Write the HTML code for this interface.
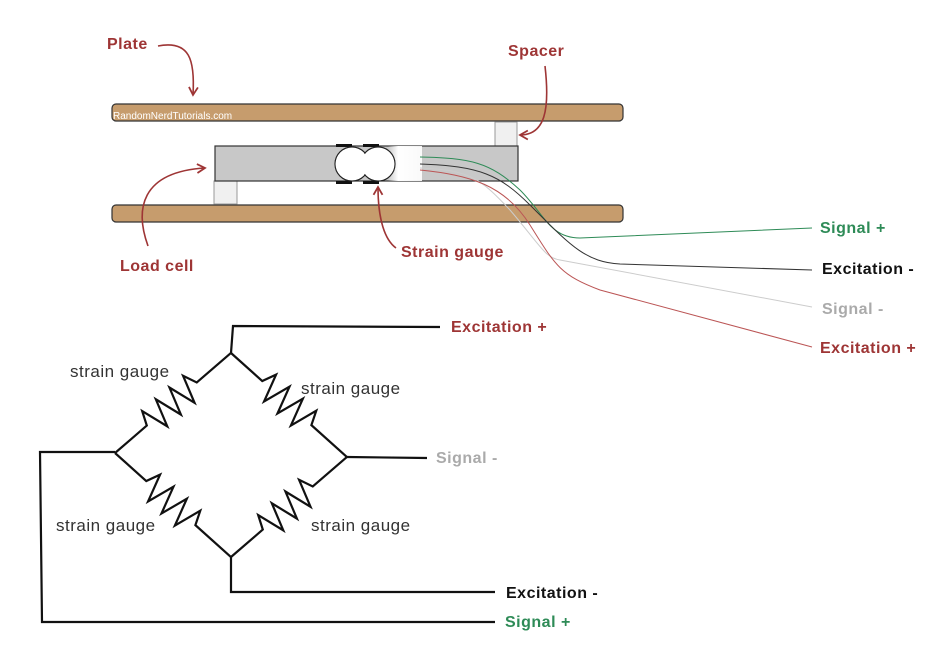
<!DOCTYPE html>
<html><head><meta charset="utf-8"><style>
html,body{margin:0;padding:0;background:#fff;width:928px;height:667px;overflow:hidden}
svg{display:block}
text{font-family:"Liberation Sans","DejaVu Sans",sans-serif}
.r{fill:#9e3535;font-weight:bold;font-size:16px;letter-spacing:0.5px}
.sg{fill:#333;font-size:17px;letter-spacing:0.5px}
</style></head><body>
<svg width="928" height="667" viewBox="0 0 928 667" xmlns="http://www.w3.org/2000/svg">
<defs>
<linearGradient id="fade" x1="0" x2="1" y1="0" y2="0">
<stop offset="0" stop-color="#fff" stop-opacity="0"/>
<stop offset="0.3" stop-color="#fff" stop-opacity="1"/>
<stop offset="1" stop-color="#fff" stop-opacity="0.9"/>
</linearGradient>
<marker id="ah" viewBox="0 0 10 10" refX="8" refY="5" markerWidth="7" markerHeight="7" orient="auto">
<path d="M1,1 L8,5 L1,9" fill="none" stroke="#9e3535" stroke-width="1.6"/>
</marker>
</defs>
<rect x="112" y="104" width="511" height="17" rx="4" fill="#c69c6d" stroke="#333" stroke-width="1.2"/>
<text x="113" y="119" font-size="10" fill="#fff">RandomNerdTutorials.com</text>
<rect x="112" y="205" width="511" height="17" rx="4" fill="#c69c6d" stroke="#333" stroke-width="1.2"/>
<rect x="495" y="122" width="22" height="24" fill="#f0f0f0" stroke="#999"/>
<rect x="214" y="181" width="23" height="23" fill="#f0f0f0" stroke="#999"/>
<rect x="215" y="146" width="303" height="35" fill="#c8c8c8" stroke="#333" stroke-width="1.2"/>
<rect x="388" y="146" width="34" height="35" fill="url(#fade)"/>
<rect x="336" y="144" width="16" height="3" fill="#111"/>
<rect x="363" y="144" width="16" height="3" fill="#111"/>
<rect x="336" y="181" width="16" height="3" fill="#111"/>
<rect x="363" y="181" width="16" height="3" fill="#111"/>
<circle cx="352" cy="164" r="17" fill="#fff" stroke="#222" stroke-width="1.2"/>
<circle cx="378" cy="164" r="17" fill="#fff" stroke="#222" stroke-width="1.2"/>
<circle cx="352" cy="164" r="16.3" fill="#fff"/>
<circle cx="378" cy="164" r="16.3" fill="#fff"/>
<path d="M420,157 C470,158 490,162 520,190 C545,215 550,238 580,238 L812,228" fill="none" stroke="#2e8b57" stroke-width="1"/>
<path d="M420,164 C480,166 500,175 530,205 C570,245 585,262 620,264 L812,270" fill="none" stroke="#333" stroke-width="1"/>
<path d="M420,168 C470,170 480,178 510,210 C540,245 545,258 560,260 L812,307" fill="none" stroke="#ccc" stroke-width="1"/>
<path d="M420,170 C470,175 505,185 530,225 C555,265 560,275 600,290 L812,347" fill="none" stroke="#b55" stroke-width="1"/>
<path d="M158,46 C190,40 195,60 193,95" fill="none" stroke="#9e3535" stroke-width="1.6" marker-end="url(#ah)"/>
<path d="M545,66 C550,110 545,135 520,135" fill="none" stroke="#9e3535" stroke-width="1.6" marker-end="url(#ah)"/>
<path d="M148,246 C135,210 140,172 205,168" fill="none" stroke="#9e3535" stroke-width="1.6" marker-end="url(#ah)"/>
<path d="M396,248 C385,240 378,220 378,187" fill="none" stroke="#9e3535" stroke-width="1.6" marker-end="url(#ah)"/>
<text class="r" x="107" y="49">Plate</text>
<text class="r" x="508" y="56">Spacer</text>
<text class="r" x="120" y="271">Load cell</text>
<text class="r" x="401" y="257">Strain gauge</text>
<text class="r" x="820" y="233" style="fill:#2e8b57">Signal +</text>
<text class="r" x="822" y="274" style="fill:#111">Excitation -</text>
<text class="r" x="822" y="314" style="fill:#aaa">Signal -</text>
<text class="r" x="820" y="353">Excitation +</text>
<g fill="none" stroke="#111" stroke-width="2.2">
<polyline points="231,353 233,326 440,327"/>
<polyline points="115,452 40,452 42,622 495,622"/>
<polyline points="347,457 427,458"/>
<polyline points="231,557 231,592 495,592"/>
<g transform="translate(115,453) rotate(-40.8)"><polyline points="0,0 42,0 48,-14 57,14 66,-14 75,14 84,-14 93,14 102,-14 108,0 153,0"/></g>
<g transform="translate(231,353) rotate(41.9)"><polyline points="0,0 42,0 48,-14 57,14 66,-14 75,14 84,-14 93,14 102,-14 108,0 156,0"/></g>
<g transform="translate(115,453) rotate(41.9)"><polyline points="0,0 42,0 48,-14 57,14 66,-14 75,14 84,-14 93,14 102,-14 108,0 156,0"/></g>
<g transform="translate(231,557) rotate(-40.8)"><polyline points="0,0 42,0 48,-14 57,14 66,-14 75,14 84,-14 93,14 102,-14 108,0 153,0"/></g>
</g>
<text class="sg" x="70" y="377">strain gauge</text>
<text class="sg" x="301" y="394">strain gauge</text>
<text class="sg" x="56" y="531">strain gauge</text>
<text class="sg" x="311" y="531">strain gauge</text>
<text class="r" x="451" y="332">Excitation +</text>
<text class="r" x="436" y="463" style="fill:#aaa">Signal -</text>
<text class="r" x="506" y="598" style="fill:#111">Excitation -</text>
<text class="r" x="505" y="627" style="fill:#2e8b57">Signal +</text>
</svg>
</body></html>
